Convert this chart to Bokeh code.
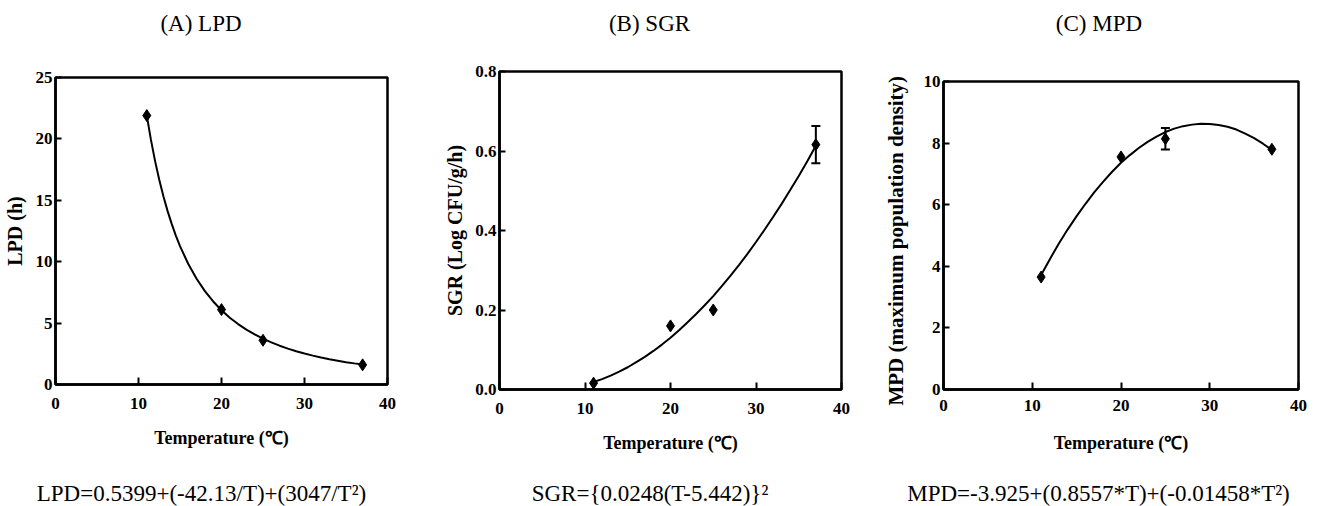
from bokeh.plotting import figure
from bokeh.layouts import row, column
from bokeh.models import (Range1d, FixedTicker, PrintfTickFormatter,
                          Whisker, TeeHead, ColumnDataSource)
from bokeh.core.properties import value
from bokeh.embed import file_html
from bokeh.resources import INLINE

# ---------------- data ----------------
temps = [11, 20, 25, 37]

lpd = [21.9, 6.1, 3.6, 1.6]
sgr = [0.016, 0.16, 0.20, 0.616]
sgr_err = [0.0, 0.0, 0.0, 0.047]
mpd = [3.65, 7.55, 8.14, 7.8]
mpd_err = [0.0, 0.0, 0.35, 0.0]

# fitted curves
lpd_fit_t = [11, 11.5, 12, 12.5, 13, 13.5, 14, 14.5, 15, 16, 17, 18, 19, 20, 21, 22,
             23, 24, 25, 26, 27, 28, 29, 30, 31, 32, 33, 34, 35, 36, 37]
lpd_fit = [21.89, 19.92, 18.19, 16.67, 15.33, 14.14, 13.08, 12.13, 11.27, 9.81, 8.61,
           7.60, 6.76, 6.05, 5.44, 4.92, 4.47, 4.08, 3.73, 3.43, 3.16, 2.92, 2.71,
           2.52, 2.35, 2.20, 2.06, 1.94, 1.82, 1.72, 1.63]

fit_t = [11, 12, 13, 14, 15, 16, 17, 18, 19, 20, 21, 22, 23, 24, 25, 26, 27, 28, 29,
         30, 31, 32, 33, 34, 35, 36, 37]
sgr_fit = [0.019, 0.026, 0.035, 0.045, 0.056, 0.069, 0.082, 0.097, 0.113, 0.130,
           0.149, 0.169, 0.190, 0.212, 0.235, 0.260, 0.286, 0.313, 0.341, 0.371,
           0.402, 0.434, 0.467, 0.502, 0.537, 0.574, 0.613]
mpd_fit = [3.72, 4.24, 4.74, 5.20, 5.63, 6.03, 6.41, 6.75, 7.07, 7.36, 7.61, 7.84,
           8.04, 8.21, 8.36, 8.47, 8.55, 8.60, 8.63, 8.62, 8.59, 8.53, 8.44, 8.31,
           8.16, 7.98, 7.78]

x_ticks = [0, 10, 20, 30, 40]
lpd_ticks = [0, 5, 10, 15, 20, 25]
sgr_ticks = [0.0, 0.2, 0.4, 0.6, 0.8]
mpd_ticks = [0, 2, 4, 6, 8, 10]

titles = ["(A) LPD", "(B) SGR", "(C) MPD"]
captions = ["LPD=0.5399+(-42.13/T)+(3047/T\u00b2)",
            "SGR={0.0248(T-5.442)}\u00b2",
            "MPD=-3.925+(0.8557*T)+(-0.01458*T\u00b2)"]
x_label = "Temperature (\u2103)"
y_labels = ["LPD (h)", "SGR (Log CFU/g/h)", "MPD (maximum  population  density)"]

FONT = "Liberation Serif"
W = 1319


def text_strip(height, texts, xs, ymid):
    """A full-width strip (pixel-like coordinates) holding centred texts."""
    s = figure(width=W, height=height, output_backend="svg", toolbar_location=None,
               x_range=Range1d(0, W), y_range=Range1d(height, 0),
               x_axis_type=None, y_axis_type=None, title=None,
               min_border=0, min_border_left=0, min_border_right=0,
               min_border_top=0, min_border_bottom=0)
    s.frame_align = False
    s.outline_line_color = None
    s.grid.visible = False
    s.background_fill_color = "white"
    s.border_fill_color = "white"
    src = ColumnDataSource(data=dict(x=xs, y=[ymid] * len(xs), t=texts))
    s.text(x="x", y="y", text="t", source=src, text_align="center",
           text_baseline="middle", text_font=value(FONT),
           text_font_size=value("23px"), text_color="black")
    return s


def panel(width, left, right, top, bottom, ymax, yticks, ylabel,
          x_std, xl_std, y_std, yl_std, yl_size):
    p = figure(width=width, height=430, output_backend="svg",
               toolbar_location=None, title=None,
               x_range=Range1d(0, 40), y_range=Range1d(0, ymax),
               min_border_left=left, min_border_right=right,
               min_border_top=top, min_border_bottom=bottom)
    p.frame_align = False
    p.grid.visible = False
    p.outline_line_color = "black"
    p.outline_line_width = 2.5
    p.outline_line_alpha = 1.0
    p.background_fill_color = "white"
    p.border_fill_color = "white"
    for ax in (p.xaxis[0], p.yaxis[0]):
        ax.axis_line_width = 2.5
        ax.axis_line_color = "black"
        ax.major_tick_line_width = 2
        ax.major_tick_line_color = "black"
        ax.major_tick_out = 0
        ax.minor_tick_in = 0
        ax.minor_tick_out = 0
        ax.major_label_text_font = FONT
        ax.major_label_text_font_style = "bold"
        ax.major_label_text_font_size = "17px"
        ax.major_label_text_color = "black"
        ax.axis_label_text_font = FONT
        ax.axis_label_text_font_style = "bold"
        ax.axis_label_text_color = "black"
    xa = p.xaxis[0]
    ya = p.yaxis[0]
    xa.ticker = FixedTicker(ticks=x_ticks)
    ya.ticker = FixedTicker(ticks=yticks)
    xa.major_tick_in = 7
    ya.major_tick_in = 6
    xa.major_label_standoff = x_std
    ya.major_label_standoff = y_std
    xa.axis_label = x_label
    ya.axis_label = ylabel
    xa.axis_label_text_font_size = "18px"
    ya.axis_label_text_font_size = yl_size
    xa.axis_label_standoff = xl_std
    ya.axis_label_standoff = yl_std
    return p


def add_errors(p, xs, ys, errs):
    bx, up, lo = [], [], []
    for x, y, e in zip(xs, ys, errs):
        if e > 0:
            bx.append(x)
            up.append(y + e)
            lo.append(y - e)
    src = ColumnDataSource(data=dict(base=bx, upper=up, lower=lo))
    w = Whisker(base="base", upper="upper", lower="lower", source=src,
                line_color="black", line_width=2,
                upper_head=TeeHead(size=9, line_width=2, line_color="black"),
                lower_head=TeeHead(size=9, line_width=2, line_color="black"))
    p.add_layout(w)


# Panel A
pA = panel(440, 53, 53, 37, 86, 25, lpd_ticks, y_labels[0], 13, 16, 3, 7, "20px")
pA.line(lpd_fit_t, lpd_fit, line_color="black", line_width=2)
pA.scatter(temps, lpd, marker="diamond", size=12, fill_color="black", line_color="black")

# Panel B
pB = panel(440, 59, 39, 31, 81, 0.8, sgr_ticks, y_labels[1], 13, 16, 3, 6, "20px")
pB.yaxis[0].formatter = PrintfTickFormatter(format="%.1f")
pB.line(fit_t, sgr_fit, line_color="black", line_width=2)
add_errors(pB, temps, sgr, sgr_err)
pB.scatter(temps, sgr, marker="diamond", size=12, fill_color="black", line_color="black")

# Panel C
pC = panel(439, 57, 21, 41, 81, 10, mpd_ticks, y_labels[2], 10, 19, 3, 13, "21px")
pC.line(fit_t, mpd_fit, line_color="black", line_width=2)
add_errors(pC, temps, mpd, mpd_err)
pC.scatter(temps, mpd, marker="diamond", size=12, fill_color="black", line_color="black")

top_strip = text_strip(40, titles, [200.5, 649, 1098.5], 22.5)
bottom_strip = text_strip(36, captions, [201, 649.5, 1098], 23)

layout = column(top_strip, row(pA, pB, pC), bottom_strip)
open("out.html", "w").write(file_html(layout, INLINE))
